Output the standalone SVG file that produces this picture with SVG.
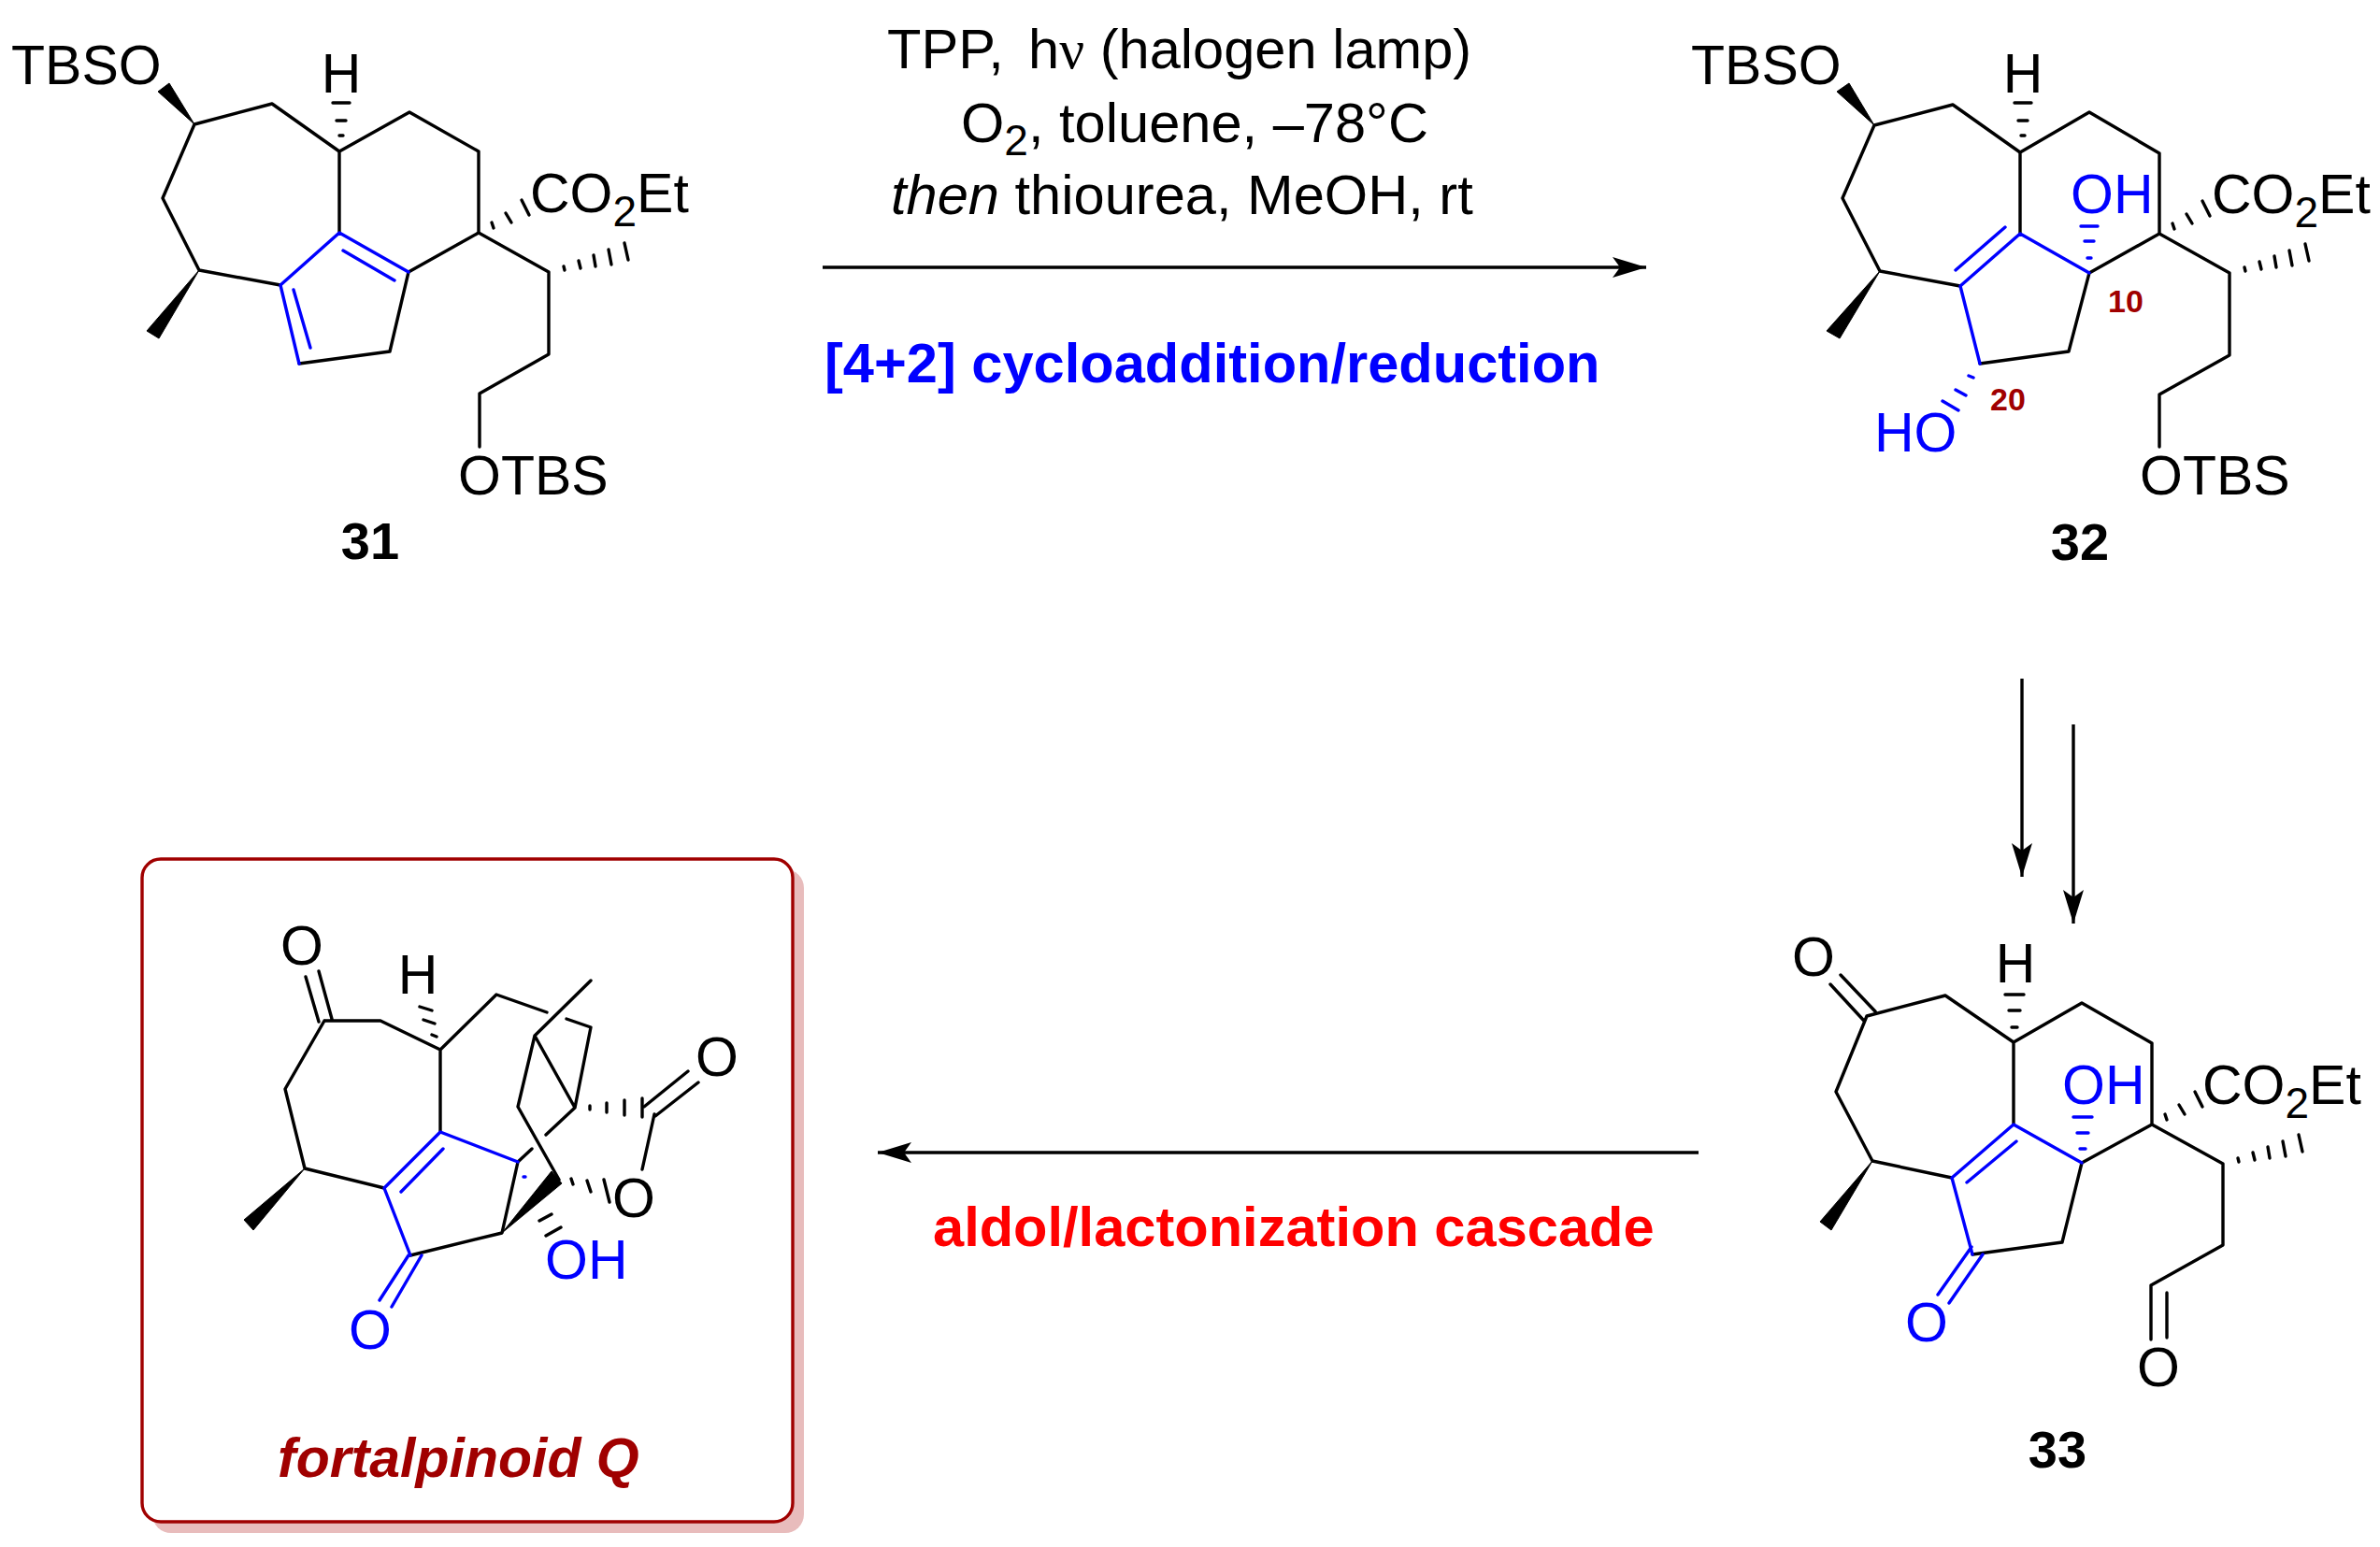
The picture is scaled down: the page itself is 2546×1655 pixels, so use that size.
<svg xmlns="http://www.w3.org/2000/svg" xmlns:xlink="http://www.w3.org/1999/xlink" width="2546" height="1655" viewBox="0 0 2546 1655">
<style>
text{font-family:"Liberation Sans",Arial,sans-serif;font-size:59px;fill:#000}
.c{font-size:59.6px}
.b{fill:#0000ff}
.lab{font-weight:700;font-size:56px}
.num{font-weight:700;font-size:34px;fill:#a00000}
.m{text-anchor:middle}
.k,.bl,.a{fill:none;stroke-width:3.4;stroke-linejoin:round;stroke-linecap:round}
.k{stroke:#000}
.bl{stroke:#0000ff}
.a{stroke:#000;stroke-linecap:butt}
.w{fill:#000;stroke:#000;stroke-width:1}
</style>
<defs>
<marker id="head" markerUnits="userSpaceOnUse" markerWidth="40" markerHeight="24" refX="36" refY="12" orient="auto"><path d="M0 1L36 12L0 23L8 12Z" fill="#000"/></marker>
<path id="hashCO2" d="M530 240L532 246M545 230L551 240M562 216L570 232" class="k"/>
<path id="hashMe" d="M608 288L609 292M624 282L626 290M640 276L642 288M656 270L659 286M673 263L677 281" class="k"/>
</defs>
<rect width="2546" height="1655" fill="#fff"/>

<g id="connectors">
<path class="a" marker-end="url(#head)" d="M880 286H1761"/>
<path class="a" marker-end="url(#head)" d="M2163 726V938"/>
<path class="a" marker-end="url(#head)" d="M2218 775V988"/>
<path class="a" marker-end="url(#head)" d="M1817 1233H939"/>
</g>

<g id="conditions">
<text class="c" y="73"><tspan x="949">TPP,</tspan><tspan x="1100">h</tspan><tspan font-family="Liberation Serif">ν</tspan> (halogen lamp)</text>
<text class="c" x="1028" y="152">O<tspan dy="14" font-size="46">2</tspan><tspan dy="-14">, toluene, –78°C</tspan></text>
<text class="c" x="953" y="229"><tspan font-style="italic">then</tspan> thiourea, MeOH, rt</text>
<text x="882" y="409" class="c b" style="font-weight:700">[4+2] cycloaddition/reduction</text>
<text x="998" y="1333" class="c" style="font-weight:700;fill:#ff0000">aldol/lactonization cascade</text>
</g>

<g id="mol31">
<path class="k" d="M208 133L291 111L363 162L438 120L512 162V249L587 291V379L513 421V478M363 162V249M512 249L437 291L417 376L320 389M208 133L174 212L213 289L300 305"/>
<path class="bl" d="M320 389L300 305L363 249L437 291M314 310L332 372M367 268L422 300"/>
<polygon class="w" points="208,133 169,98 181,89"/>
<polygon class="w" points="213,289 157,354 170,362"/>
<path class="k" d="M363 145H367M360 129H370M356 110H374"/>
<use href="#hashCO2" xlink:href="#hashCO2" transform="translate(-4 -2)"/>
<use href="#hashMe" xlink:href="#hashMe" transform="translate(-5 -3)"/>
<text x="12" y="90">TBSO</text>
<text x="365" y="99" class="m">H</text>
<text x="567" y="227">CO<tspan dy="15" font-size="46">2</tspan><tspan dy="-15">Et</tspan></text>
<text x="490" y="529">OTBS</text>
<text x="396" y="598" class="m lab">31</text>
</g>

<g id="mol32">
<path class="k" d="M2005 134L2089 112L2161 163L2235 120L2310 164V250L2385 292V380L2310 422V478M2161 163V250M2310 250L2235 292L2213 376L2118 389M2005 134L1971 212L2011 290L2097 306"/>
<path class="bl" d="M2118 389L2097 306L2161 250L2235 292M2145 243L2092 289"/>
<polygon class="w" points="2005,134 1965,98 1978,89"/>
<polygon class="w" points="2011,290 1954,354 1968,362"/>
<path class="k" d="M2162 145H2166M2159 129H2169M2155 110H2173"/>
<path class="bl" d="M2233 276H2237M2230 258H2240M2226 242H2244M2106 402L2111 404M2092 417L2103 423M2078 429L2095 439"/>
<use href="#hashCO2" xlink:href="#hashCO2" transform="translate(1794 -1)"/>
<use href="#hashMe" xlink:href="#hashMe" transform="translate(1793 -2)"/>
<text x="1809" y="90">TBSO</text>
<text x="2164" y="99" class="m">H</text>
<text x="2215" y="228" class="b">OH</text>
<text x="2366" y="228">CO<tspan dy="15" font-size="46">2</tspan><tspan dy="-15">Et</tspan></text>
<text x="2005" y="483" class="b">HO</text>
<text x="2255" y="334" class="num">10</text>
<text x="2129" y="439" class="num">20</text>
<text x="2289" y="529">OTBS</text>
<text x="2225" y="599" class="m lab">32</text>
</g>

<g id="mol33">
<path class="k" d="M1997 1087L2081 1065L2154 1115L2227 1073L2302 1116V1203L2378 1245V1332L2301 1375V1433M2318 1383V1431M2154 1115V1203M2302 1203L2227 1244L2206 1329L2110 1342M1997 1087L1964 1168L2003 1242L2088 1260M1969 1043L2006 1082M1958 1053L1994 1092"/>
<path class="bl" d="M2110 1342L2088 1260L2154 1203L2227 1244M2157 1221L2104 1265M2109 1334L2073 1385M2121 1342L2085 1394"/>
<polygon class="w" points="2003,1242 1947,1307 1959,1316"/>
<path class="k" d="M2152 1099H2158M2149 1081H2161M2145 1064H2165"/>
<path class="bl" d="M2225 1229H2231M2222 1212H2234M2218 1195H2238"/>
<use href="#hashCO2" xlink:href="#hashCO2" transform="translate(1786 952)"/>
<use href="#hashMe" xlink:href="#hashMe" transform="translate(1786 951)"/>
<text x="1940" y="1044" class="m">O</text>
<text x="2156" y="1051" class="m">H</text>
<text x="2206" y="1181" class="b">OH</text>
<text x="2356" y="1181">CO<tspan dy="15" font-size="46">2</tspan><tspan dy="-15">Et</tspan></text>
<text x="2061" y="1435" class="m b">O</text>
<text x="2309" y="1483" class="m">O</text>
<text x="2201" y="1570" class="m lab">33</text>
</g>

<g id="fortalpinoidQ">
<rect x="163" y="930" width="697" height="710" rx="20" fill="#e8bcbc"/>
<rect x="152" y="919" width="696" height="709" rx="20" fill="#fff" stroke="#a00000" stroke-width="3.4"/>
<path class="k" d="M341 1039L355 1090M327 1045L341 1093M347 1092H407L471 1123L531 1064L585 1083M606 1090L632 1099L615 1185L572 1108L632 1049M572 1108L554 1184L598 1262M615 1185L584 1214M569 1229L554 1243L537 1319L439 1343M471 1123V1211M347 1092L305 1165L326 1250L411 1271M689 1184L736 1146M701 1194L747 1158M700 1192L687 1251"/>
<path class="bl" d="M439 1343L411 1271L471 1211L554 1243M474 1229L429 1275M437 1343L406 1391M451 1343L419 1398M560 1259H562"/>
<polygon class="w" points="326,1250 261,1305 271,1316"/>
<polygon class="w" points="537,1319 590,1253 601,1266"/>
<path class="k" d="M462 1107L467 1109M453 1091L465 1095M449 1077L462 1081M631 1183V1187M649 1180V1190M668 1177V1193M687 1175V1195M611 1261L613 1267M628 1263L632 1275M646 1262L652 1286M577 1306L590 1299M584 1322L600 1313"/>
<text x="323" y="1032" class="m">O</text>
<text x="447" y="1063" class="m">H</text>
<text x="767" y="1151" class="m">O</text>
<text x="678" y="1302" class="m">O</text>
<text x="583" y="1368" class="b">OH</text>
<text x="396" y="1443" class="m b">O</text>
<text x="297" y="1580" style="font-weight:700;font-style:italic;fill:#a00000">fortalpinoid Q</text>
</g>
</svg>
